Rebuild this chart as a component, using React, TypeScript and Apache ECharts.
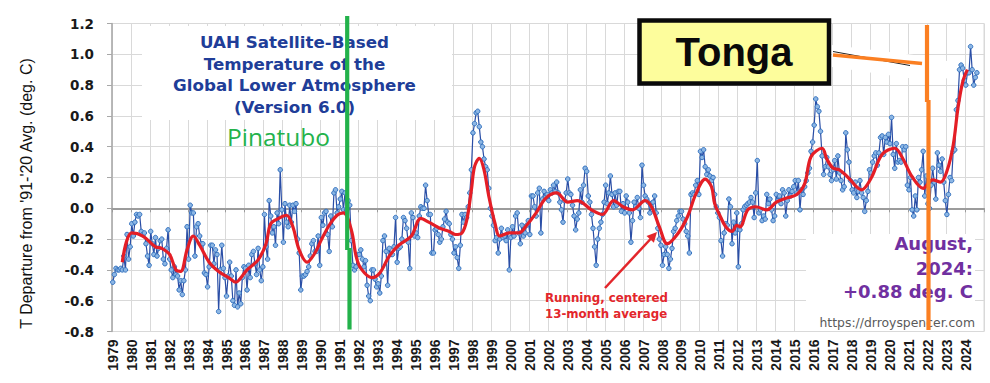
import React, { useEffect, useRef } from "react";
import * as echarts from "echarts";

// Monthly global lower-troposphere anomalies (deg C), one array per year
const anom1979 = [-0.48, -0.43, -0.39, -0.40, -0.40, -0.39, -0.40, -0.31, -0.40, -0.17, -0.33, -0.25];
const anom1980 = [-0.10, -0.18, -0.09, -0.04, -0.05, -0.04, -0.15, -0.17, -0.16, -0.23, -0.31, -0.37];
const anom1981 = [-0.15, -0.23, -0.30, -0.19, -0.31, -0.26, -0.21, -0.20, -0.33, -0.36, -0.26, -0.14];
const anom1982 = [-0.33, -0.40, -0.45, -0.38, -0.43, -0.44, -0.53, -0.47, -0.56, -0.47, -0.40, -0.12];
const anom1983 = [-0.33, 0.02, -0.03, -0.03, -0.31, -0.12, -0.10, -0.18, -0.23, -0.23, -0.42, -0.43];
const anom1984 = [-0.51, -0.38, -0.24, -0.24, -0.36, -0.27, -0.30, -0.67, -0.40, -0.24, -0.39, -0.45];
const anom1985 = [-0.57, -0.44, -0.35, -0.44, -0.60, -0.63, -0.40, -0.64, -0.55, -0.62, -0.45, -0.38];
const anom1986 = [-0.39, -0.53, -0.37, -0.45, -0.30, -0.28, -0.36, -0.43, -0.26, -0.40, -0.47, -0.38];
const anom1987 = [-0.04, -0.25, -0.33, 0.05, -0.05, -0.16, -0.12, -0.24, -0.03, -0.10, 0.25, -0.01];
const anom1988 = [-0.22, 0.03, -0.09, -0.12, 0.02, -0.09, 0.02, -0.02, 0.03, -0.20, -0.29, -0.53];
const anom1989 = [-0.44, -0.44, -0.43, -0.41, -0.38, -0.31, -0.23, -0.21, -0.28, -0.28, -0.18, -0.37];
const anom1990 = [-0.06, -0.11, -0.03, -0.02, -0.17, -0.28, -0.05, -0.12, 0.10, 0.12, -0.03, 0.01];
const anom1991 = [0.06, 0.11, -0.01, 0.10, -0.01, 0.05, 0.02, -0.21, -0.37, -0.40, -0.38, -0.30];
const anom1992 = [-0.30, -0.27, -0.33, -0.38, -0.34, -0.50, -0.57, -0.60, -0.40, -0.40, -0.46, -0.51];
const anom1993 = [-0.49, -0.55, -0.44, -0.21, -0.18, -0.28, -0.50, -0.26, -0.30, -0.30, -0.25, -0.06];
const anom1994 = [-0.35, -0.26, -0.25, -0.20, -0.06, -0.08, -0.13, -0.22, -0.39, -0.03, -0.06, -0.18];
const anom1995 = [-0.16, -0.19, -0.05, 0.01, 0.00, 0.00, 0.15, 0.05, -0.04, -0.04, -0.29, -0.29];
const anom1996 = [-0.14, -0.13, -0.17, -0.22, -0.20, -0.12, -0.07, -0.02, -0.09, -0.10, -0.17, -0.20];
const anom1997 = [-0.29, -0.25, -0.32, -0.39, -0.24, -0.04, -0.09, -0.04, -0.06, 0.01, 0.10, 0.25];
const anom1998 = [0.49, 0.55, 0.62, 0.63, 0.53, 0.43, 0.40, 0.32, 0.27, 0.25, 0.13, 0.00];
const anom1999 = [-0.05, -0.11, -0.21, -0.19, -0.29, -0.20, -0.13, -0.19, -0.18, -0.21, -0.14, -0.40];
const anom2000 = [-0.19, -0.12, -0.18, -0.05, -0.03, -0.16, -0.23, -0.11, -0.18, -0.16, -0.11, -0.08];
const anom2001 = [-0.17, 0.08, 0.08, 0.01, -0.05, 0.10, 0.13, -0.16, 0.06, 0.11, 0.07, 0.09];
const anom2002 = [0.05, 0.12, 0.10, 0.15, 0.11, 0.17, 0.10, 0.04, -0.01, -0.09, 0.05, 0.10];
const anom2003 = [0.19, 0.10, 0.09, 0.02, -0.05, -0.14, -0.07, -0.03, 0.12, 0.04, 0.15, 0.26];
const anom2004 = [0.24, 0.08, 0.04, -0.04, -0.13, -0.25, -0.37, -0.20, -0.13, -0.09, -0.04, 0.04];
const anom2005 = [0.15, 0.03, 0.10, 0.21, 0.09, 0.01, 0.10, 0.02, 0.11, 0.11, -0.02, 0.03];
const anom2006 = [-0.03, 0.08, 0.04, -0.03, -0.22, -0.08, 0.04, 0.01, 0.07, 0.00, -0.06, 0.28];
const anom2007 = [0.15, 0.08, 0.06, 0.04, -0.03, 0.01, 0.04, 0.08, -0.03, -0.13, -0.20, -0.24];
const anom2008 = [-0.37, -0.30, -0.25, -0.30, -0.39, -0.33, -0.26, -0.15, -0.13, -0.08, -0.05, -0.02];
const anom2009 = [-0.02, -0.07, -0.10, -0.15, -0.18, -0.29, 0.09, 0.10, 0.09, 0.15, 0.18, 0.09];
const anom2010 = [0.37, 0.33, 0.38, 0.27, 0.22, 0.25, 0.21, 0.18, 0.20, 0.09, 0.01, -0.03];
const anom2011 = [-0.06, -0.21, -0.31, -0.16, -0.10, -0.11, 0.06, 0.01, -0.23, -0.09, -0.16, -0.03];
const anom2012 = [-0.38, -0.14, -0.10, -0.01, 0.01, 0.02, 0.03, 0.04, 0.07, 0.04, -0.06, 0.10];
const anom2013 = [0.31, -0.03, -0.01, -0.08, -0.05, -0.07, 0.09, 0.03, 0.06, -0.01, -0.08, -0.05];
const anom2014 = [0.09, 0.05, 0.08, 0.03, 0.12, 0.10, -0.05, 0.05, 0.12, 0.08, 0.11, 0.14];
const anom2015 = [0.18, 0.10, 0.18, -0.01, 0.12, 0.09, 0.14, 0.18, 0.23, 0.26, 0.37, 0.43];
const anom2016 = [0.54, 0.71, 0.66, 0.63, 0.50, 0.34, 0.22, 0.27, 0.33, 0.27, 0.22, 0.18];
const anom2017 = [0.25, 0.31, 0.19, 0.34, 0.23, 0.18, 0.12, 0.14, 0.49, 0.38, 0.30, 0.18];
const anom2018 = [0.12, 0.10, 0.17, 0.07, 0.11, 0.18, 0.10, 0.07, -0.02, 0.05, 0.11, 0.25];
const anom2019 = [0.23, 0.30, 0.34, 0.36, 0.28, 0.36, 0.46, 0.47, 0.35, 0.46, 0.43, 0.48];
const anom2020 = [0.42, 0.59, 0.35, 0.26, 0.42, 0.30, 0.31, 0.30, 0.40, 0.38, 0.40, 0.15];
const anom2021 = [0.12, 0.20, -0.01, -0.05, 0.08, -0.01, 0.20, 0.17, 0.25, 0.37, 0.08, 0.21];
const anom2022 = [0.03, 0.00, 0.15, 0.26, 0.17, 0.06, 0.36, 0.28, 0.24, 0.32, 0.17, 0.05];
const anom2023 = [-0.04, 0.09, 0.20, 0.18, 0.37, 0.38, 0.64, 0.70, 0.90, 0.93, 0.91, 0.83];
const anom2024 = [0.80, 0.88, 0.88, 1.05, 0.90, 0.80, 0.85, 0.88];

// Running, centered 13-month average
const runningMonths = [
  "1979-07", "1980-01", "1980-08", "1981-04", "1981-08", "1982-01", "1982-05", "1982-08", "1982-12",
  "1983-04", "1983-08", "1984-02", "1984-08", "1985-03", "1985-07", "1985-09", "1986-02", "1986-09",
  "1987-02", "1987-05", "1987-10", "1988-03", "1988-07", "1988-11", "1989-04", "1989-09", "1990-01",
  "1990-06", "1990-11", "1991-03", "1991-08", "1991-11", "1992-02", "1992-09", "1993-02", "1993-08",
  "1994-02", "1994-10", "1995-04", "1995-09", "1996-04", "1996-10", "1997-02", "1997-06", "1997-09",
  "1997-12", "1998-02", "1998-05", "1998-08", "1998-11", "1999-03", "1999-06", "1999-12", "2000-06",
  "2000-11", "2001-05", "2001-11", "2002-06", "2003-01", "2003-07", "2004-04", "2004-11", "2005-06",
  "2005-12", "2006-06", "2007-02", "2007-06", "2007-11", "2008-04", "2008-11", "2009-05", "2009-10",
  "2010-04", "2010-08", "2010-10", "2011-01", "2011-05", "2011-09", "2011-12", "2012-02", "2012-07",
  "2012-12", "2013-07", "2014-01", "2014-07", "2015-02", "2015-07", "2015-11", "2016-06", "2016-09",
  "2017-01", "2017-05", "2017-10", "2018-07", "2019-01", "2019-08", "2020-04", "2020-09", "2021-03",
  "2021-10", "2022-04", "2022-09", "2023-01", "2023-05", "2023-08", "2023-11", "2024-02",
];
const runningValues = [
  -0.35, -0.16, -0.18, -0.25, -0.26, -0.30, -0.40, -0.41, -0.27,
  -0.18, -0.24, -0.35, -0.41, -0.455, -0.48, -0.465, -0.40, -0.335,
  -0.23, -0.10, -0.065, -0.045, -0.12, -0.27, -0.35, -0.29, -0.205,
  -0.11, -0.045, -0.03, -0.14, -0.31, -0.39, -0.45, -0.42, -0.31,
  -0.24, -0.18, -0.065, -0.09, -0.13, -0.15, -0.17, -0.16, -0.08,
  0.12, 0.27, 0.325, 0.25, 0.08, -0.10, -0.18, -0.16, -0.16,
  -0.11, -0.03, 0.065, 0.10, 0.04, 0.05, -0.01, -0.04, 0.05,
  0.01, -0.01, 0.05, 0.01, -0.12, -0.23, -0.16, -0.05, 0.09,
  0.19, 0.14, 0.03, -0.04, -0.12, -0.15, -0.11, -0.12, -0.01,
  0.01, -0.01, 0.04, 0.065, 0.09, 0.16, 0.335, 0.39, 0.32,
  0.26, 0.25, 0.205, 0.12, 0.195, 0.35, 0.39, 0.325, 0.205,
  0.13, 0.185, 0.17, 0.24, 0.41, 0.65, 0.82, 0.90,
];

const firstYear = 1979;
const lastYear = 2024;

const titleLines = ["UAH Satellite-Based", "Temperature of the", "Global Lower Atmosphere", "(Version 6.0)"];
const latestLines = ["August,", "2024:", "+0.88 deg. C"];

export default function App() {
  const ref = useRef<HTMLDivElement>(null);

  useEffect(() => {
    if (!ref.current) return;
    const chart = echarts.init(ref.current, null, { renderer: "svg" });

    const yearly = [
      anom1979, anom1980, anom1981, anom1982, anom1983, anom1984, anom1985, anom1986, anom1987, anom1988,
      anom1989, anom1990, anom1991, anom1992, anom1993, anom1994, anom1995, anom1996, anom1997, anom1998,
      anom1999, anom2000, anom2001, anom2002, anom2003, anom2004, anom2005, anom2006, anom2007, anom2008,
      anom2009, anom2010, anom2011, anom2012, anom2013, anom2014, anom2015, anom2016, anom2017, anom2018,
      anom2019, anom2020, anom2021, anom2022, anom2023, anom2024,
    ];
    const monthly: number[] = ([] as number[]).concat(...yearly);

    const categories: string[] = [];
    for (let y = firstYear; y <= lastYear; y++) {
      for (let m = 1; m <= 12; m++) categories.push(`${y}-${m < 10 ? "0" + m : m}`);
    }
    const monthIndex = (s: string) => (parseInt(s.slice(0, 4), 10) - firstYear) * 12 + parseInt(s.slice(5, 7), 10) - 1;
    const running = runningMonths.map((s, k) => [monthIndex(s), runningValues[k]]);

    const everyYear = (i: number) => i % 12 === 0;
    const Z = 100;

    const green = "#23b24b";
    const orange = "#fb7f22";

    chart.setOption({
      animation: false,
      backgroundColor: "#ffffff",
      grid: {
        left: 112, right: 6, top: 23.5, bottom: 51.5,
        containLabel: false, outerBoundsMode: "none",
        show: true, borderColor: "#d9d9d9", borderWidth: 1,
      },
      xAxis: {
        type: "category",
        data: categories,
        boundaryGap: true,
        axisLine: { onZero: true, lineStyle: { color: "#9c9c9c", width: 2 } },
        axisTick: { show: true, interval: everyYear, length: 4, lineStyle: { color: "#9c9c9c", width: 1 } },
        axisLabel: {
          interval: everyYear,
          formatter: (v: string) => v.slice(0, 4),
          rotate: 90,
          margin: 8,
          fontFamily: "Liberation Sans",
          fontWeight: "bold",
          fontSize: 14,
          color: "#1a1a1a",
        },
        splitLine: { show: true, interval: everyYear, lineStyle: { color: "#d9d9d9", width: 1 } },
      },
      yAxis: {
        type: "value",
        min: -0.8,
        max: 1.2,
        interval: 0.2,
        axisLine: { show: true, lineStyle: { color: "#a8a8a8", width: 1.5 } },
        axisTick: { show: true, length: 5, lineStyle: { color: "#a8a8a8" } },
        axisLabel: {
          formatter: (v: number) => (Math.abs(v) < 1e-9 ? "0.0" : v.toFixed(1)),
          margin: 18,
          fontFamily: "DejaVu Sans",
          fontWeight: "bold",
          fontSize: 13.5,
          color: "#1a1a1a",
        },
        splitLine: { show: true, lineStyle: { color: "#d9d9d9", width: 1 } },
      },
      series: [
        {
          type: "line",
          data: monthly,
          symbol: "circle",
          symbolSize: 4.5,
          showSymbol: true,
          showAllSymbol: true,
          silent: true,
          lineStyle: { color: "#2a4ea6", width: 1.2 },
          itemStyle: { color: "#8cb6e4", borderColor: "#3472bf", borderWidth: 1 },
          z: 3,
        },
        {
          type: "line",
          data: running,
          smooth: 0.35,
          symbol: "none",
          silent: true,
          lineStyle: { color: "#e41e26", width: 3.2 },
          z: 4,
        },
      ],
      graphic: [
        // white panel behind the title
        { type: "rect", z: 1, shape: { x: 142, y: 26, width: 310, height: 94 }, style: { fill: "#ffffff" } },
        {
          type: "text", z: Z, x: 294.5, y: 74.5,
          style: {
            text: titleLines.join("\n"), font: 'bold 16.7px "DejaVu Sans"', fill: "#203d98",
            lineHeight: 21.7, align: "center", verticalAlign: "middle", textAlign: "center", textVerticalAlign: "middle",
          },
        },
        {
          type: "text", z: Z, x: 227, y: 136,
          style: {
            text: "Pinatubo", font: '24.5px "Open Sans"', fill: green,
            align: "left", verticalAlign: "middle", textAlign: "left", textVerticalAlign: "middle",
          },
        },
        // y axis title
        {
          type: "text", z: Z, x: 26, y: 193.5, rotation: Math.PI / 2,
          style: {
            text: "T Departure from '91-'20 Avg. (deg. C)", font: '16px "Liberation Sans"', fill: "#111111",
            align: "center", verticalAlign: "middle", textAlign: "center", textVerticalAlign: "middle",
          },
        },
        // Pinatubo line
        { type: "line", z: Z, shape: { x1: 347.2, y1: 16, x2: 347.2, y2: 250 }, style: { stroke: green, lineWidth: 4.2 } },
        { type: "line", z: Z, shape: { x1: 349.5, y1: 248, x2: 349.5, y2: 329.5 }, style: { stroke: green, lineWidth: 4.2 } },
        // Tonga box
        {
          type: "rect", z: Z, shape: { x: 639.5, y: 20.5, width: 189.5, height: 63 },
          style: { fill: "#fdfd9c", stroke: "#0a0a0a", lineWidth: 4.5 },
        },
        {
          type: "text", z: Z + 1, x: 734, y: 52,
          style: {
            text: "Tonga", font: 'bold 40px "Liberation Sans"', fill: "#0a0a0a",
            align: "center", verticalAlign: "middle", textAlign: "center", textVerticalAlign: "middle",
          },
        },
        // covered pointer near Tonga box
        {
          type: "polygon", z: Z - 2,
          shape: { points: [[832, 45], [922, 56], [952, 62], [952, 78], [922, 80], [832, 67]] },
          style: { fill: "#ffffff" },
        },
        { type: "line", z: Z - 1, shape: { x1: 833, y1: 51.5, x2: 910, y2: 65.5 }, style: { stroke: "#222222", lineWidth: 1 } },
        { type: "line", z: Z, shape: { x1: 833, y1: 55, x2: 922, y2: 63.5 }, style: { stroke: orange, lineWidth: 3.5 } },
        // white panel for the latest value
        { type: "rect", z: 1, shape: { x: 806, y: 234, width: 169, height: 97 }, style: { fill: "#ffffff" } },
        ...latestLines.map((t, k) => ({
          type: "text", z: Z - 5, x: 973, y: [243.5, 268.3, 291.8][k],
          style: {
            text: t, font: 'bold 18px "DejaVu Sans"', fill: "#7030a0",
            align: "right", verticalAlign: "middle", textAlign: "right", textVerticalAlign: "middle",
          },
        })),
        {
          type: "text", z: Z - 5, x: 975, y: 322,
          style: {
            text: "https://drroyspencer.com", font: '12.4px "DejaVu Sans"', fill: "#5a5a5a",
            align: "right", verticalAlign: "middle", textAlign: "right", textVerticalAlign: "middle",
          },
        },
        // Tonga eruption line
        { type: "line", z: Z, shape: { x1: 927, y1: 25, x2: 927, y2: 102 }, style: { stroke: orange, lineWidth: 4.2 } },
        { type: "line", z: Z, shape: { x1: 928.5, y1: 100, x2: 928.5, y2: 330 }, style: { stroke: orange, lineWidth: 4.2 } },
        // running-average annotation
        {
          type: "text", z: Z, x: 545, y: 297.5,
          style: {
            text: "Running, centered", font: 'bold 11.8px "DejaVu Sans"', fill: "#e3262b",
            align: "left", verticalAlign: "middle", textAlign: "left", textVerticalAlign: "middle",
          },
        },
        {
          type: "text", z: Z, x: 545, y: 314,
          style: {
            text: "13-month average", font: 'bold 11.8px "DejaVu Sans"', fill: "#e3262b",
            align: "left", verticalAlign: "middle", textAlign: "left", textVerticalAlign: "middle",
          },
        },
        { type: "line", z: Z, shape: { x1: 605, y1: 288, x2: 651, y2: 238.5 }, style: { stroke: "#e3262b", lineWidth: 2.5 } },
        {
          type: "polygon", z: Z,
          shape: { points: [[657, 232], [653.9, 242.7], [646.5, 235.9]] },
          style: { fill: "#e3262b" },
        },
      ],
    });

    return () => chart.dispose();
  }, []);

  return (
    <div
      ref={ref}
      style={{ position: "absolute", left: 0, top: 0, width: 990, height: 383, background: "#ffffff" }}
    />
  );
}
